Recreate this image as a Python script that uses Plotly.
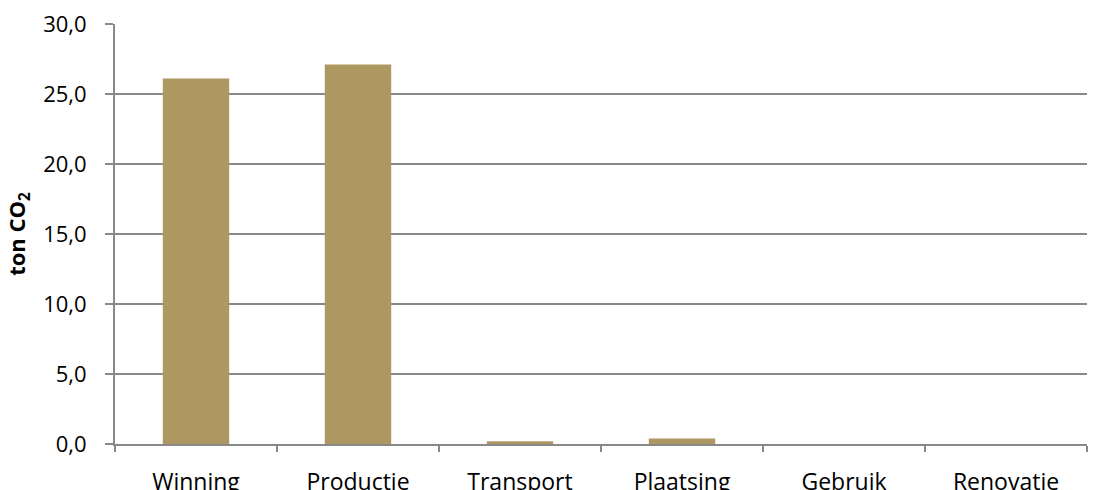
import plotly.graph_objects as go

# Life-cycle phases and their CO2 emissions (ton)
phases = ["Winning", "Productie", "Transport", "Plaatsing", "Gebruik", "Renovatie"]
emissions = [26.1, 27.1, 0.2, 0.4, 0.0, 0.0]
y_ticks = [0, 5, 10, 15, 20, 25, 30]

bar_color = "#AD9862"
grid_color = "#898989"
font_family = "Open Sans, Lato, sans-serif"

fig = go.Figure(
    go.Bar(
        x=phases,
        y=emissions,
        marker=dict(color=bar_color, line=dict(width=0)),
        hoverinfo="x+y",
    )
)

fig.update_layout(
    width=1100,
    height=490,
    margin=dict(l=115, r=13, t=24, b=46),
    paper_bgcolor="white",
    plot_bgcolor="white",
    bargap=0.59,
    separators=",.",
    showlegend=False,
    font=dict(family=font_family, size=23, color="#000000"),
)

fig.update_xaxes(
    type="category",
    automargin=False,
    showline=True,
    linecolor=grid_color,
    linewidth=2,
    ticks="outside",
    tickson="boundaries",
    ticklen=6,
    tickwidth=2,
    tickcolor=grid_color,
    showgrid=False,
    ticklabelstandoff=16,
    tickfont=dict(size=23),
)

fig.update_yaxes(
    range=[0, 30],
    automargin=False,
    tickvals=y_ticks,
    tickformat=".1f",
    showline=True,
    linecolor=grid_color,
    linewidth=2,
    ticks="outside",
    ticklen=8,
    tickwidth=2,
    tickcolor=grid_color,
    showgrid=True,
    gridcolor=grid_color,
    gridwidth=2,
    zeroline=False,
    ticklabelstandoff=14,
    tickfont=dict(size=22),
    title=dict(
        text="<b>ton CO<sub>2</sub></b>",
        font=dict(size=22),
        standoff=11,
    ),
)

fig.write_html("out.html")
